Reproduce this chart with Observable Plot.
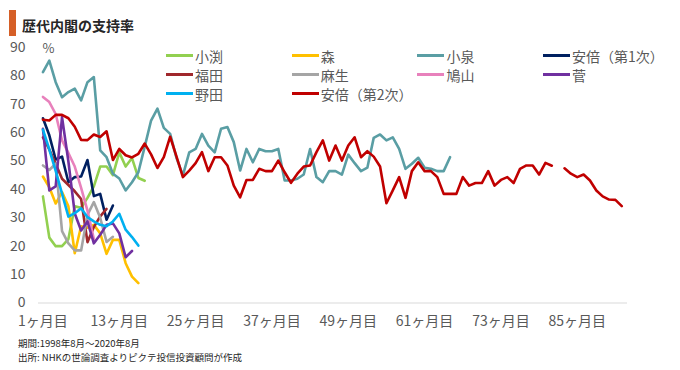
<!DOCTYPE html>
<html><head><meta charset="utf-8">
<script src="https://cdn.jsdelivr.net/npm/d3@7"></script>
<script src="https://cdn.jsdelivr.net/npm/@observablehq/plot@0.6"></script>
<style>
body{margin:0;background:#fff;font-family:"Noto Sans CJK JP","Noto Sans",sans-serif;}
#wrap{position:relative;width:680px;height:370px;overflow:hidden;background:#fff;}
#title{position:absolute;left:9px;top:10px;height:26px;display:flex;align-items:center;}
#title .bar{width:7px;height:26px;background:#D55F27;margin-right:6px;}
#title .t{font-size:14px;font-weight:bold;color:#262626;line-height:26px;padding-top:4px;}
#chart{position:absolute;left:0;top:38px;}
.lg{position:absolute;display:flex;align-items:center;height:19px;font-size:14px;color:#595959;white-space:nowrap;}
.lg .sw{width:27px;height:3px;margin-right:2px;}
#caption{position:absolute;left:18px;top:337px;font-size:9.5px;color:#262626;}
#caption div{height:13.5px;line-height:13.5px;}
</style>
</head><body>
<div id="wrap">
  <div id="title"><div class="bar"></div><div class="t">歴代内閣の支持率</div></div>
  <div id="chart"></div>
  <div id="legend"></div>
  <div id="caption"><div>期間:1998年8月～2020年8月</div><div>出所: NHKの世論調査よりピクテ投信投資顧問が作成</div></div>
</div>
<script>
// ---- data ----
const names = ["小渕","森","小泉","安倍（第1次）","福田","麻生","鳩山","菅","野田","安倍（第2次）"];
const colors = ["#92D050","#FFC000","#5A9EA4","#002060","#A0282C","#A5A5A5","#E881BC","#7030A0","#00B0F0","#C00000"];
const xTicks = [1,13,25,37,49,61,73,85];
const xTickLabels = ["1ヶ月目","13ヶ月目","25ヶ月目","37ヶ月目","49ヶ月目","61ヶ月目","73ヶ月目","85ヶ月目"];
const yTicks = [0,10,20,30,40,50,60,70,80,90];

const obuchi = [37.5,23,20,20,22.5,34,33.5,37,41,48,48,45,53,48,51,44,43];
const mori = [44.5,40.7,35,39,34,17.5,27,26.5,27.5,24.5,17.3,22.2,22.2,14,9.3,7];
const koizumi = [81.2,85.3,77.7,72.4,74.2,75.4,71.3,77.7,79.5,53.7,
  51.3,45.5,43.8,39.6,42.5,46,55,64.2,68.4,61.6,
  59.5,51,44.9,53,54.2,59.5,55.4,53,61.3,61.9,
  56.6,46.6,54.2,49.5,54.2,53.4,53.4,54.2,43.1,43.1,
  43.7,45.2,54.2,44.3,42.5,46.4,46.4,45.2,52.2,49.2,
  46.4,47.6,58.1,59.3,57.2,58.3,54.2,47.2,49,51.1,
  47.6,47.2,46.4,46.4,51.3];
const abe1 = [65,59,50.5,51.5,42.5,44.3,44.5,50.3,37.6,38.4,29.3,34.3];
const fukuda = [58.3,54,49,43.7,41.5,39.3,36.6,21.4,26.7,30.5,33.1];
const aso = [48.4,46.8,49,25.3,21,18.5,18.5,31,35.5,30,21.5,23.3];
const hatoyama = [72.5,70.7,66.5,57.2,52.8,48,40.5,32.5,22.5];
const kan = [61.3,39.6,41,65.4,49.8,31.5,25.5,28.7,21,24,27.5,28,24.5,16.1,18.3];
const noda = [61,54,46.5,38.5,30.4,31.6,33.3,30.2,28.7,27.5,27,28.7,31.4,25.8,23.2,20.2];
const abe2 = [64.5,64.2,66.2,66.2,65,62,57.4,57.3,59.3,58.4,
  60.4,50.3,54.2,52,51.2,52.5,56.1,52.3,47.5,51.3,
  58.5,51.5,44.3,46.6,49.2,53.1,46.4,51.3,51.3,48.4,
  41.3,37.2,43.3,43.3,47.2,46.4,46.4,50.1,46,42.3,
  45.5,48,48.4,53.1,57.2,50.1,55.4,50.1,55.4,58.3,
  51.3,53.4,51.5,48,35.1,39.6,44.3,37,46.4,49.5,
  46.4,46.4,44.3,38.4,38.4,38.4,44.3,41.3,42.2,42.2,
  46.4,41.3,43.3,44.3,42.2,47.2,48.4,48.4,45.2,49.3,
  48.3,null,47.4,45.5,44.3,45.2,43.1,39.6,37.5,36.4,
  36.3,34.1];

const seriesValues = [obuchi,mori,koizumi,abe1,fukuda,aso,hatoyama,kan,noda,abe2];
const rows = [];
seriesValues.forEach((vals, si) => vals.forEach((v, i) => rows.push({name: names[si], month: i + 1, value: v})));

const font = '"Noto Sans CJK JP","Noto Sans",sans-serif';
const chart = Plot.plot({
  width: 680, height: 300,
  marginLeft: 38, marginRight: 53, marginTop: 8.7, marginBottom: 35.5,
  x: {domain: [0.3, 92.9], ticks: xTicks, tickFormat: d => xTickLabels[xTicks.indexOf(d)], tickSize: 0, tickPadding: 13, label: null},
  y: {domain: [0, 90], ticks: yTicks, tickSize: 0, tickPadding: 13, label: null},
  color: {domain: names, range: colors},
  style: {fontFamily: font, fontSize: "14px", color: "#595959", background: "transparent", overflow: "visible"},
  marks: [
    Plot.ruleY([0], {stroke: "#d9d9d9", strokeWidth: 1}),
    Plot.line(rows, {x: "month", y: "value", z: "name", stroke: "name", strokeWidth: 2.6, strokeLinejoin: "round", strokeLinecap: "round"}),
    Plot.text(["%"], {frameAnchor: "top-left", dx: 4, dy: 1.5, textAnchor: "start", lineAnchor: "middle", fontSize: 13, fill: "#595959"})
  ]
});
document.getElementById("chart").appendChild(chart);

// legend
const lg = document.getElementById("legend");
names.forEach((n, i) => {
  const col = i % 4, row = Math.floor(i / 4);
  const d = document.createElement("div");
  d.className = "lg";
  d.style.left = (166 + col * 125.7) + "px";
  d.style.top = (46 + row * 19) + "px";
  d.innerHTML = `<div class="sw" style="background:${colors[i]}"></div><span>${n}</span>`;
  lg.appendChild(d);
});
</script>
</body></html>
